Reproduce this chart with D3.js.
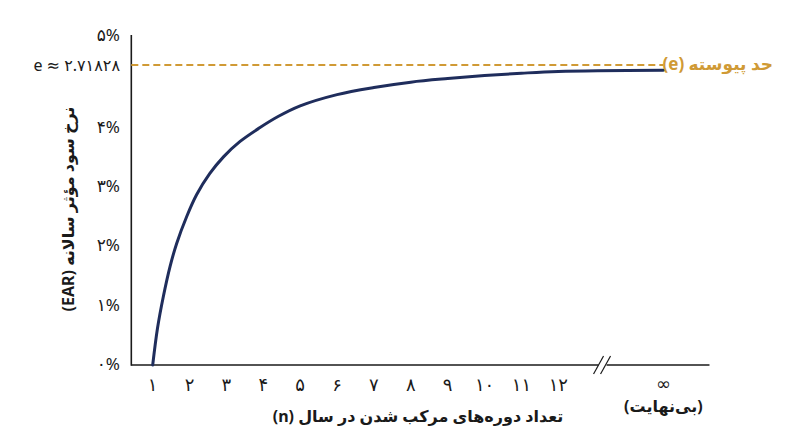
<!DOCTYPE html>
<html>
<head>
<meta charset="utf-8">
<script src="https://cdn.jsdelivr.net/npm/d3@7"></script>
<style>
    html, body { margin: 0; padding: 0; background: #ffffff; }
    svg { display: block; font-family: "Noto Sans", "DejaVu Sans", sans-serif; }
</style>
</head>
<body>
<div class="earChart"></div>
<script>
// data
const nValues = [1, 1.13, 1.29, 1.47, 1.65, 1.92, 2.19, 2.55, 2.92, 3.37, 3.9, 4.4, 5, 6, 7, 8, 9, 10, 11, 12, 'inf'];
const earValues = [0, 0.62, 1.16, 1.66, 2.05, 2.5, 2.87, 3.23, 3.51, 3.77, 4.0, 4.19, 4.37, 4.56, 4.68, 4.77, 4.83, 4.88, 4.92, 4.95, 4.97];
const eLimit = 5.06;

const xTickValues = [1, 2, 3, 4, 5, 6, 7, 8, 9, 10, 11, 12];
const xTickLabels = ['۱', '۲', '۳', '۴', '۵', '۶', '۷', '۸', '۹', '۱۰', '۱۱', '۱۲'];
const yTickValues = [0, 1, 2, 3, 4];
const yTickLabels = ['۰%', '۱%', '۲%', '۳%', '۴%'];
const yTopLabel = '۵%';
const eLabel = 'e ≈ ۲.۷۱۸۲۸';
const infLabel = '∞';
const infSubLabel = '(بی‌نهایت)';
const limitLabel = 'حد پیوسته (e)';
const xTitle = 'تعداد دوره‌های مرکب شدن در سال (n)';
const yTitle = 'نرخ سود مؤثر سالانه (EAR)';

const navy = '#1f2d5c';
const gold = '#d09a35';
const ink = '#1a1a1a';

let width = 800, height = 447;
let svg = d3.select('.earChart').append('svg')
    .attr('width', width)
    .attr('height', height);

// x slots: 1..12 then a break and the infinity slot
let infSlot = 14.85, breakSlot = 13.2, xStart = 0.42, xEnd = 16.1;
let x = d3.scaleLinear().domain([1, 12]).range([152.7, 558.3]);
let xPos = n => n === 'inf' ? x(infSlot) : x(n);

let y = d3.scaleLinear().domain([0, 4]).range([365, 127.8]);
let yTop = 35;

let points = nValues.map((n, i) => ({n: n, v: earValues[i]}));

// axes lines
let axisLayer = svg.append('g').attr('stroke', ink).attr('stroke-width', 1.6).attr('fill', 'none');
axisLayer.append('line')
    .attr('x1', x(xStart)).attr('x2', x(xStart))
    .attr('y1', yTop).attr('y2', y(0) + 0.8);
axisLayer.append('line')
    .attr('x1', x(xStart)).attr('x2', x(breakSlot) - 4)
    .attr('y1', y(0)).attr('y2', y(0));
axisLayer.append('line')
    .attr('x1', x(breakSlot) + 4).attr('x2', x(xEnd))
    .attr('y1', y(0)).attr('y2', y(0));
// break marks
[-4, 3].forEach(dx => {
    axisLayer.append('line')
        .attr('stroke-width', 1.2)
        .attr('x1', x(breakSlot) + dx - 5).attr('y1', y(0) + 9)
        .attr('x2', x(breakSlot) + dx + 5).attr('y2', y(0) - 9);
});

// continuous limit line
svg.append('line')
    .attr('x1', x(xStart)).attr('x2', xPos('inf'))
    .attr('y1', y(eLimit)).attr('y2', y(eLimit))
    .attr('stroke', gold)
    .attr('stroke-width', 2)
    .attr('stroke-dasharray', '7,4');

// EAR curve
let valueLine = d3.line()
    .x(d => xPos(d.n))
    .y(d => y(d.v))
    .curve(d3.curveCatmullRom.alpha(0.5));
svg.append('path')
    .datum(points)
    .attr('d', valueLine)
    .attr('fill', 'none')
    .attr('stroke', navy)
    .attr('stroke-width', 3)
    .attr('stroke-linecap', 'round');

// x tick labels
svg.append('g').selectAll('text')
    .data(xTickValues)
    .join('text')
    .attr('x', d => x(d))
    .attr('y', 385)
    .attr('dy', '0.35em')
    .attr('text-anchor', 'middle')
    .attr('font-size', 18)
    .attr('fill', ink)
    .text((d, i) => xTickLabels[i]);

svg.append('text')
    .attr('x', xPos('inf'))
    .attr('y', 384)
    .attr('dy', '0.35em')
    .attr('text-anchor', 'middle')
    .attr('font-size', 18)
    .attr('fill', ink)
    .text(infLabel);
svg.append('text')
    .attr('x', xPos('inf'))
    .attr('y', 406)
    .attr('dy', '0.35em')
    .attr('text-anchor', 'middle')
    .attr('direction', 'rtl')
    .attr('font-size', 16)
    .attr('font-weight', 'bold')
    .attr('fill', ink)
    .text(infSubLabel);

// y tick labels
svg.append('g').selectAll('text')
    .data(yTickValues)
    .join('text')
    .attr('x', 120)
    .attr('y', d => y(d) - 1)
    .attr('dy', '0.35em')
    .attr('text-anchor', 'end')
    .attr('font-size', 17)
    .attr('fill', ink)
    .text((d, i) => yTickLabels[i]);
svg.append('text')
    .attr('x', 120).attr('y', yTop)
    .attr('dy', '0.35em')
    .attr('text-anchor', 'end')
    .attr('font-size', 17)
    .attr('fill', ink)
    .text(yTopLabel);
svg.append('text')
    .attr('x', 120).attr('y', y(eLimit))
    .attr('dy', '0.35em')
    .attr('text-anchor', 'end')
    .attr('font-size', 16)
    .attr('fill', ink)
    .text(eLabel);

// limit label
svg.append('text')
    .attr('x', 773).attr('y', y(eLimit) - 1)
    .attr('dy', '0.35em')
    .attr('text-anchor', 'start')
    .attr('direction', 'rtl')
    .attr('font-size', 17)
    .attr('font-weight', 'bold')
    .attr('fill', gold)
    .text(limitLabel);

// axis titles
svg.append('text')
    .attr('x', 418).attr('y', 416)
    .attr('dy', '0.35em')
    .attr('text-anchor', 'middle')
    .attr('direction', 'rtl')
    .attr('font-size', 16)
    .attr('font-weight', 'bold')
    .attr('fill', ink)
    .text(xTitle);
svg.append('text')
    .attr('transform', 'translate(68,209) rotate(-90)')
    .attr('dy', '0.35em')
    .attr('text-anchor', 'middle')
    .attr('direction', 'rtl')
    .attr('font-size', 16)
    .attr('font-weight', 'bold')
    .attr('fill', ink)
    .text(yTitle);
</script>
</body>
</html>
